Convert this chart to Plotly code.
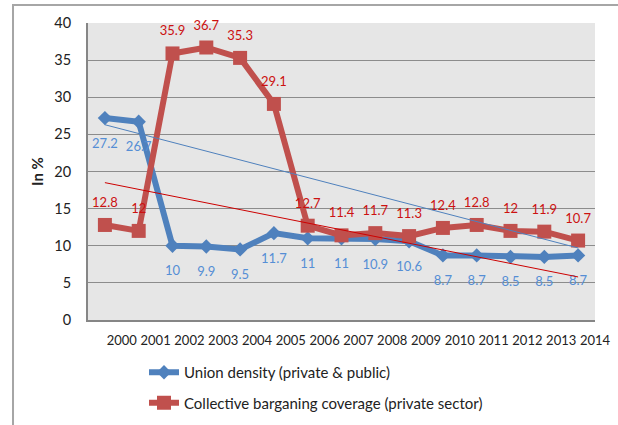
import plotly.graph_objects as go

years = [str(y) for y in range(2000, 2015)]
union_density = [27.2, 26.7, 10, 9.9, 9.5, 11.7, 11, 11, 10.9, 10.6, 8.7, 8.7, 8.5, 8.5, 8.7]
bargaining = [12.8, 12, 35.9, 36.7, 35.3, 29.1, 12.7, 11.4, 11.7, 11.3, 12.4, 12.8, 12, 11.9, 10.7]
# thin trend lines (endpoints)
trend_blue = [26.3, 9.7]
trend_red = [18.5, 5.8]

n = len(years)
xs = list(range(n))
FONT = "Lato"
BLUE = "#4f81bd"
RED = "#c0504d"

fig = go.Figure()
fig.add_trace(go.Scatter(
    x=xs, y=union_density, mode="lines+markers",
    name="Union density (private & public)",
    line=dict(color=BLUE, width=6),
    marker=dict(symbol="diamond", size=11, color=BLUE),
    legendgroup="a", cliponaxis=False,
))
fig.add_trace(go.Scatter(
    x=xs, y=union_density, mode="markers+text", showlegend=False, hoverinfo="skip",
    marker=dict(size=30, color="rgba(0,0,0,0)"),
    text=[f"{v:g}" for v in union_density], textposition="bottom center",
    textfont=dict(family=FONT, size=13, color="#558ed5"), cliponaxis=False,
))
fig.add_trace(go.Scatter(
    x=xs, y=bargaining, mode="lines+markers",
    name="Collective barganing coverage (private sector)",
    line=dict(color=RED, width=6),
    marker=dict(symbol="square", size=14, color=RED),
    legendgroup="b", cliponaxis=False,
))
fig.add_trace(go.Scatter(
    x=xs, y=bargaining, mode="markers+text", showlegend=False, hoverinfo="skip",
    marker=dict(size=22, color="rgba(0,0,0,0)"),
    text=[f"{v:g}" for v in bargaining], textposition="top center",
    textfont=dict(family=FONT, size=13, color="#cc1111"), cliponaxis=False,
))
fig.add_trace(go.Scatter(
    x=[xs[0], xs[-1]], y=trend_blue, mode="lines",
    line=dict(color=BLUE, width=1), showlegend=False, hoverinfo="skip",
))
fig.add_trace(go.Scatter(
    x=[xs[0], xs[-1]], y=trend_red, mode="lines",
    line=dict(color="#cc0000", width=1), showlegend=False, hoverinfo="skip",
))

L, R, T, B = 88, 595, 23, 320
W, H = 618, 425
pw, ph = R - L, B - T

def px(xp):
    return (xp - L) / pw

def py(yp):
    return (B - yp) / ph

frame_path = "M {:.4f},{:.4f} L {:.4f},{:.4f} L {:.4f},{:.4f}".format(
    px(13), py(H), px(13), py(5), px(W), py(5))

fig.update_layout(
    width=W, height=H,
    margin=dict(l=L, r=W - R, t=T, b=H - B, autoexpand=False),
    paper_bgcolor="white", plot_bgcolor="#e6e6e6",
    font=dict(family=FONT, color="#222222"),
    showlegend=True,
    legend=dict(x=px(144), y=py(356), xanchor="left", yanchor="top",
                orientation="v", traceorder="grouped", tracegroupgap=8,
                font=dict(family=FONT, size=15, color="#222222"),
                bgcolor="rgba(0,0,0,0)"),
    xaxis=dict(range=[-0.5, n - 0.5], tickvals=[i + 0.5 for i in xs], ticktext=years,
               showgrid=False, zeroline=False, showline=True, linecolor="#868686", linewidth=2,
               ticks="", ticklabelstandoff=7, automargin=False,
               tickfont=dict(family=FONT, size=13, color="#222222"), fixedrange=True),
    yaxis=dict(range=[0, 40], dtick=5, showgrid=True, gridcolor="#8c8c8c", gridwidth=1,
               zeroline=False, showline=True, linecolor="#868686", linewidth=2, ticks="",
               ticklabelstandoff=12, automargin=False,
               tickfont=dict(family=FONT, size=14.5, color="#222222"),
               title=dict(text="<b>In %</b>", font=dict(family=FONT, size=15, color="#222222"), standoff=7),
               fixedrange=True),
    shapes=[
        dict(type="path", xref="paper", yref="paper", path=frame_path,
             line=dict(color="#a6a6a6", width=2), fillcolor="rgba(0,0,0,0)"),
    ],
)

fig.write_html("out.html", config={"displayModeBar": False},
               post_script="document.body.style.margin='0';document.body.style.overflow='hidden';")
